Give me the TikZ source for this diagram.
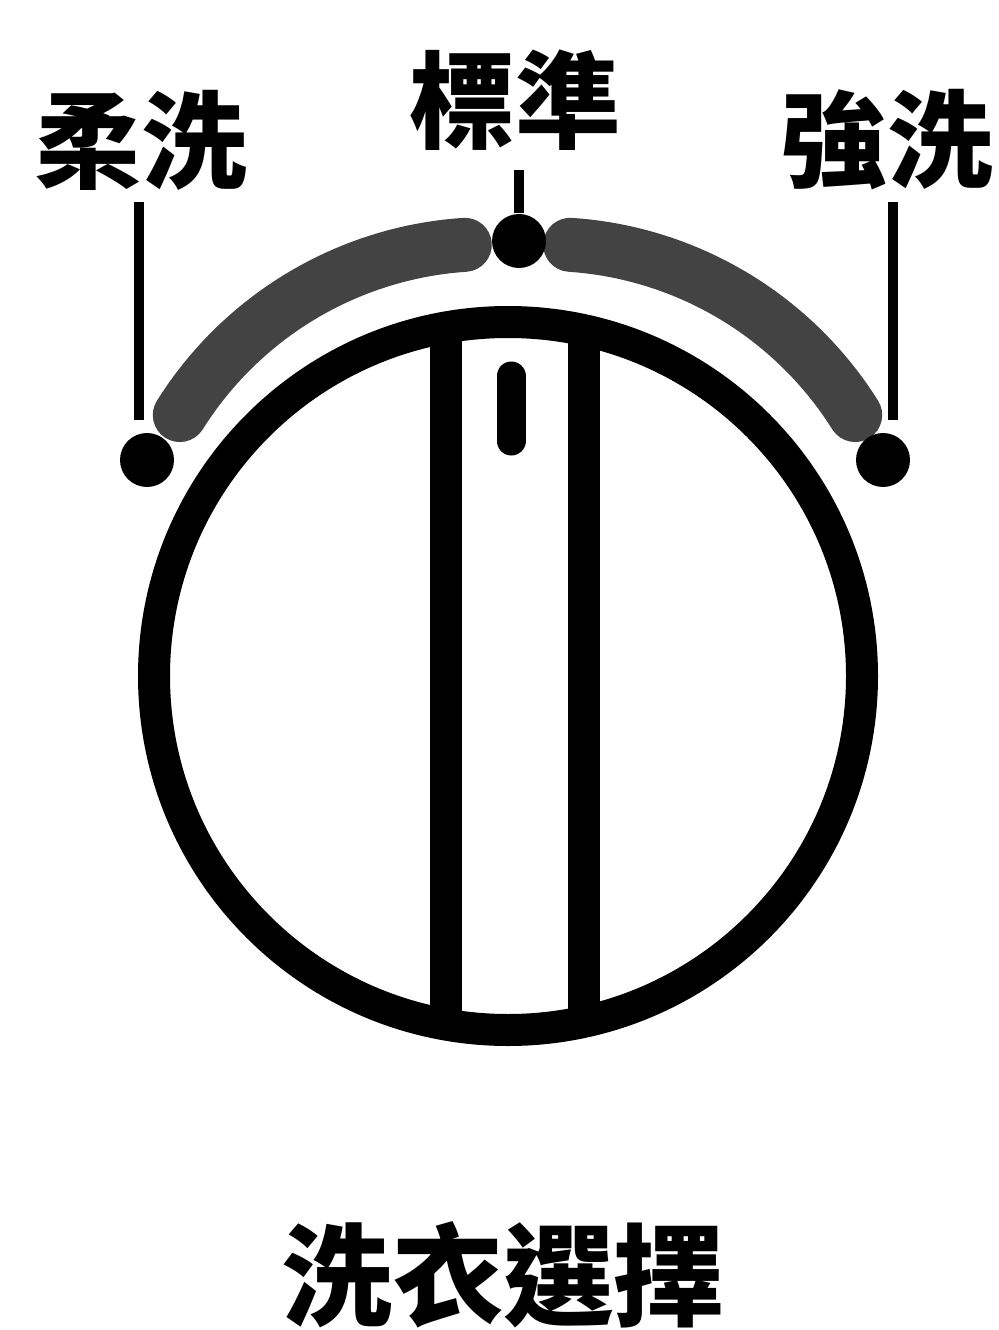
\documentclass[tikz,border=0pt]{standalone}
\usepackage{fontspec}
\newfontfamily\cjk{Noto Sans CJK TC}
\usetikzlibrary{positioning}
\definecolor{bandgray}{HTML}{434343}

\begin{document}
\begin{tikzpicture}[x=0.1mm, y=-0.1mm,
    knobdot/.style={circle, fill=black, inner sep=0pt, minimum size=5.4mm},
    modelabel/.style={font=\cjk\bfseries\fontsize{30pt}{30pt}\selectfont, inner sep=0pt},
    modeband/.style={line width=5.4mm, line cap=round, draw=bandgray},
    pointer/.style={line width=1mm},
    ring/.style={line width=3.2mm}]
    \useasboundingbox (0,0) rectangle (999,1330);

    % Dial bar and ring
    \begin{scope}
        \clip (508,676) circle[radius=35.4mm];
        \draw[ring] (446,300) -- (446,1060);
        \draw[ring] (584,300) -- (584,1060);
    \end{scope}
    \draw[ring] (508,676) circle[radius=35.4mm];
    \draw[line width=2.9mm, line cap=round] (511,376) -- (511,441);

    % Gray bands
    \draw[modeband] plot[domain=147.9:93.8, samples=40] ({489+365*cos(\x)},{609-365*sin(\x)});
    \draw[modeband] plot[domain=86.2:32.1, samples=40] ({546+365*cos(\x)},{609-365*sin(\x)});

    % Setting dots
    \node[knobdot] (soft) at (147,460) {};
    \node[knobdot] (normal) at (519,241) {};
    \node[knobdot] (strong) at (883,460) {};

    % Labels
    \node[modelabel] (softlbl) at (141,140) {柔洗};
    \node[modelabel] (normallbl) at (515,100) {標準};
    \node[modelabel] (stronglbl) at (887,140) {強洗};
    \node[modelabel, font=\cjk\bfseries\fontsize{31.5pt}{31.5pt}\selectfont] (title) at (503,1275) {洗衣選擇};

    % Pointer lines
    \coordinate (softtop) at (139,202);
    \coordinate (softend) at (139,420);
    \coordinate (normaltop) at (519,170);
    \coordinate (strongtop) at (893,202);
    \coordinate (strongend) at (893,420);
    \draw[pointer] (softtop) -- (softend);
    \draw[pointer] (normaltop) -- (normal);
    \draw[pointer] (strongtop) -- (strongend);
\end{tikzpicture}
\end{document}
